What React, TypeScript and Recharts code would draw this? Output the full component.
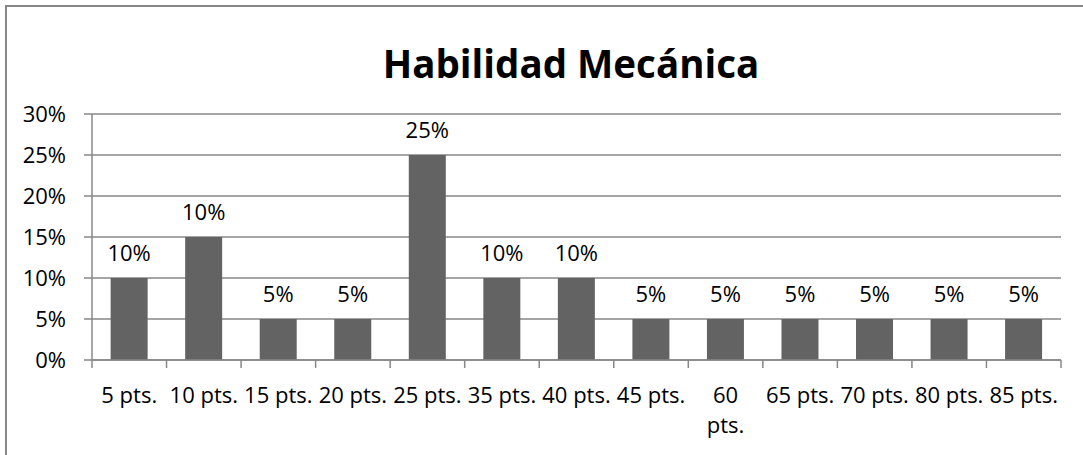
import React from "react";
import { BarChart, Bar, XAxis, YAxis, CartesianGrid, LabelList } from "recharts";

const categories = [
  "5 pts.", "10 pts.", "15 pts.", "20 pts.", "25 pts.", "35 pts.", "40 pts.",
  "45 pts.", "60\npts.", "65 pts.", "70 pts.", "80 pts.", "85 pts.",
];
const values = [10, 15, 5, 5, 25, 10, 10, 5, 5, 5, 5, 5, 5];
const valueLabels = ["10%", "10%", "5%", "5%", "25%", "10%", "10%", "5%", "5%", "5%", "5%", "5%", "5%"];
const yTicks = [0, 5, 10, 15, 20, 25, 30];

const data = categories.map((c, i) => ({ name: c, value: values[i], label: valueLabels[i] }));

const W = 1083;
const H = 455;
const MARGIN = { top: 114, right: 22, bottom: 35, left: 0 };
const Y_AXIS_W = 92;
const FONT = "'Open Sans', sans-serif";
const GRID = "#878787";
const BAR = "#636363";

const plotW = W - MARGIN.left - MARGIN.right - Y_AXIS_W;
const halfBand = plotW / categories.length / 2;

const XTick = (props: any) => {
  const { x, y, payload, index } = props;
  const lines = String(payload.value).split("\n");
  return (
    <g>
      <line x1={x - halfBand} x2={x - halfBand} y1={y} y2={y + 8} stroke={GRID} strokeWidth={1.5} />
      {index === categories.length - 1 && (
        <line x1={x + halfBand} x2={x + halfBand} y1={y} y2={y + 8} stroke={GRID} strokeWidth={1.5} />
      )}
      <text x={x} y={y + 43} textAnchor="middle" fill="#000" fontSize={22} fontFamily={FONT}>
        {lines.map((l, i) => (
          <tspan key={i} x={x} dy={i === 0 ? 0 : 30}>
            {l}
          </tspan>
        ))}
      </text>
    </g>
  );
};

export default function App() {
  return (
    <div style={{ position: "fixed", left: 0, top: 0, width: W, height: H, overflow: "hidden", background: "#fff" }}>
      <div
        style={{
          position: "absolute",
          left: 0,
          top: 38,
          width: 1142,
          textAlign: "center",
          fontFamily: FONT,
          fontWeight: 700,
          fontSize: 38.5,
          lineHeight: "50px",
          color: "#000",
        }}
      >
        Habilidad Mecánica
      </div>
      <div style={{ position: "absolute", left: 0, top: 0 }}>
        <BarChart width={W} height={H} data={data} margin={MARGIN} barCategoryGap="25%">
          <CartesianGrid vertical={false} stroke={GRID} strokeWidth={1.5} />
          <XAxis
            dataKey="name"
            height={60}
            interval={0}
            tickSize={0}
            tickMargin={0}
            tickLine={false}
            axisLine={{ stroke: GRID, strokeWidth: 1.5 }}
            tick={<XTick />}
          />
          <YAxis
            width={Y_AXIS_W}
            domain={[0, 30]}
            ticks={yTicks}
            interval={0}
            tickFormatter={(v: number) => `${v}%`}
            tickSize={8}
            tickMargin={18}
            tickLine={{ stroke: GRID, strokeWidth: 1.5 }}
            axisLine={{ stroke: GRID, strokeWidth: 1.5 }}
            tick={{ fill: "#000", fontSize: 22, fontFamily: FONT }}
          />
          <Bar dataKey="value" fill={BAR} isAnimationActive={false}>
            <LabelList dataKey="label" position="top" offset={17} fill="#000" fontSize={22} fontFamily={FONT} />
          </Bar>
        </BarChart>
      </div>
      <svg
        width={W}
        height={H}
        style={{ position: "absolute", left: 0, top: 0, pointerEvents: "none" }}
      >
        <path d={`M6 ${H + 5} V6 H${W + 5}`} fill="none" stroke={GRID} strokeWidth={2} />
      </svg>
    </div>
  );
}
